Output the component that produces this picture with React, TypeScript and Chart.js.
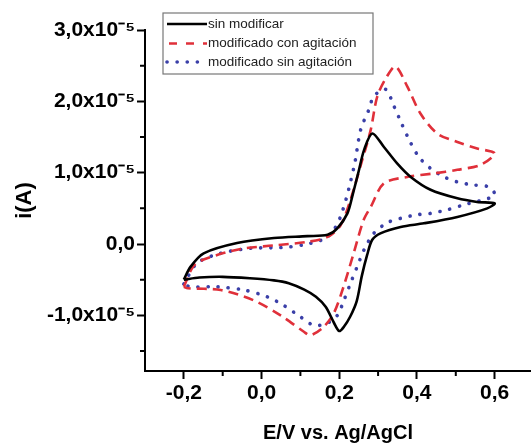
import { useEffect, useRef } from 'react';
import { Chart, registerables } from 'chart.js';

Chart.register(...registerables);

// Potential (V vs Ag/AgCl) and current (units of 1e-5 A)
const sinModX = [-0.2, -0.183, -0.149, -0.063, 0.032, 0.118, 0.17, 0.195, 0.221, 0.235, 0.25, 0.264, 0.285, 0.315, 0.349, 0.384, 0.435, 0.504, 0.555, 0.6, 0.581, 0.504, 0.418, 0.358, 0.306, 0.285, 0.272, 0.258, 0.245, 0.228, 0.212, 0.2, 0.186, 0.165, 0.14, 0.11, 0.07, 0.032, -0.03, -0.1, -0.16, -0.2];
const sinModY = [-0.5, -0.32, -0.13, 0.014, 0.084, 0.11, 0.13, 0.22, 0.43, 0.7, 1.02, 1.32, 1.55, 1.36, 1.13, 0.94, 0.76, 0.64, 0.59, 0.57, 0.5, 0.38, 0.29, 0.24, 0.15, 0.06, -0.15, -0.45, -0.8, -1.02, -1.16, -1.22, -1.1, -0.88, -0.74, -0.64, -0.55, -0.51, -0.48, -0.46, -0.47, -0.5];

const conAgitX = [-0.2, -0.174, -0.14, -0.054, 0.032, 0.118, 0.17, 0.203, 0.229, 0.255, 0.281, 0.298, 0.323, 0.345, 0.375, 0.409, 0.452, 0.504, 0.555, 0.6, 0.564, 0.504, 0.444, 0.375, 0.315, 0.281, 0.263, 0.237, 0.211, 0.186, 0.16, 0.126, 0.109, 0.049, -0.02, -0.105, -0.19, -0.2];
const conAgitY = [-0.6, -0.3, -0.2, -0.07, -0.02, 0.03, 0.1, 0.26, 0.62, 1.1, 1.6, 2.07, 2.35, 2.49, 2.21, 1.83, 1.55, 1.43, 1.34, 1.27, 1.11, 1.04, 0.99, 0.94, 0.85, 0.52, 0.34, -0.13, -0.6, -0.97, -1.16, -1.28, -1.23, -1.0, -0.79, -0.645, -0.62, -0.6];

const sinAgitX = [-0.2, -0.166, -0.105, -0.028, 0.049, 0.109, 0.17, 0.203, 0.238, 0.255, 0.276, 0.289, 0.319, 0.341, 0.358, 0.38, 0.405, 0.435, 0.47, 0.504, 0.542, 0.585, 0.6, 0.521, 0.478, 0.435, 0.4, 0.358, 0.324, 0.289, 0.264, 0.246, 0.229, 0.212, 0.195, 0.169, 0.135, 0.1, 0.057, 0.015, -0.045, -0.114, -0.183, -0.2];
const sinAgitY = [-0.56, -0.27, -0.13, -0.06, -0.05, -0.01, 0.1, 0.38, 1.08, 1.6, 1.88, 2.07, 2.17, 1.93, 1.72, 1.46, 1.22, 1.06, 0.94, 0.87, 0.83, 0.8, 0.68, 0.55, 0.48, 0.43, 0.41, 0.36, 0.3, 0.15, -0.08, -0.32, -0.55, -0.79, -1.0, -1.11, -1.14, -1.02, -0.86, -0.74, -0.645, -0.6, -0.6, -0.56];

const seriesLabels = ['sin modificar', 'modificado con agitación', 'modificado sin agitación'];

const xMajorTicks = [-0.2, 0, 0.2, 0.4, 0.6];
const xMinorTicks = [-0.1, 0.1, 0.3, 0.5];
const yMajorTicks = [-1, 0, 1, 2, 3];
const yMinorTicks = [-1.5, -0.5, 0.5, 1.5, 2.5];

const FONT = '"Liberation Sans", Arial, sans-serif';

const toPoints = (xs: number[], ys: number[]) => xs.map((x, i) => ({ x, y: ys[i] }));

const fmtX = (v: number) => v.toFixed(1).replace('.', ',');
const fmtY = (v: number) => (v === 0 ? '0,0' : v.toFixed(1).replace('.', ',') + 'x10\u207B\u2075');

const extrasPlugin = {
  id: 'extras',
  afterDraw(chart: any) {
    const { ctx } = chart;
    const xs = chart.scales.x;
    const ys = chart.scales.y;
    ctx.save();
    ctx.strokeStyle = '#000';
    ctx.lineWidth = 2;
    ctx.beginPath();
    xMinorTicks.forEach((v) => {
      const px = xs.getPixelForValue(v);
      ctx.moveTo(px, xs.top);
      ctx.lineTo(px, xs.top + 5);
    });
    yMinorTicks.forEach((v) => {
      const py = ys.getPixelForValue(v);
      ctx.moveTo(ys.right, py);
      ctx.lineTo(ys.right - 5, py);
    });
    ctx.stroke();

    // legend
    const bx = 163, by = 13, bw = 210, bh = 61;
    ctx.fillStyle = '#fff';
    ctx.fillRect(bx, by, bw, bh);
    ctx.strokeStyle = '#777';
    ctx.lineWidth = 1.2;
    ctx.strokeRect(bx, by, bw, bh);
    const rows = [24, 43.5, 62];
    chart.data.datasets.forEach((ds: any, i: number) => {
      const y = rows[i];
      ctx.save();
      ctx.strokeStyle = ds.borderColor;
      ctx.lineWidth = ds.borderWidth;
      ctx.lineCap = ds.borderCapStyle || 'butt';
      ctx.setLineDash(i === 1 ? [8, 9] : ds.borderDash || []);
      ctx.beginPath();
      ctx.moveTo(i === 1 ? 169 : 167, y);
      ctx.lineTo(207, y);
      ctx.stroke();
      ctx.restore();
      ctx.fillStyle = '#222';
      ctx.font = `13.5px ${FONT}`;
      ctx.textBaseline = 'middle';
      ctx.textAlign = 'left';
      ctx.fillText(ds.label, 208, y);
    });
    ctx.restore();
  },
};

export default function App() {
  const ref = useRef<HTMLCanvasElement | null>(null);
  useEffect(() => {
    if (!ref.current) return;
    const chart = new Chart(ref.current, {
      type: 'scatter',
      data: {
        datasets: [
          {
            label: seriesLabels[0],
            data: toPoints(sinModX, sinModY),
            showLine: true,
            borderColor: '#000',
            borderWidth: 2.6,
            pointRadius: 0,
            tension: 0.3,
          },
          {
            label: seriesLabels[1],
            data: toPoints(conAgitX, conAgitY),
            showLine: true,
            borderColor: '#e0303a',
            borderWidth: 2.6,
            borderDash: [10, 6],
            pointRadius: 0,
            tension: 0.3,
          },
          {
            label: seriesLabels[2],
            data: toPoints(sinAgitX, sinAgitY),
            showLine: true,
            borderColor: '#3a3fa8',
            borderWidth: 3.6,
            borderDash: [0.1, 10],
            borderCapStyle: 'round',
            pointRadius: 0,
            tension: 0.3,
          },
        ],
      },
      options: {
        animation: false,
        responsive: false,
        maintainAspectRatio: false,
        layout: { padding: { top: 30, left: 0, right: 0, bottom: 0 } },
        plugins: { legend: { display: false }, tooltip: { enabled: false } },
        scales: {
          x: {
            type: 'linear',
            min: -0.3,
            max: 0.6936,
            afterBuildTicks: (s: any) => {
              s.ticks = xMajorTicks.map((v) => ({ value: v }));
            },
            afterFit: (s: any) => {
              s.height = 75;
            },
            grid: { drawOnChartArea: false, tickLength: 8, tickColor: '#000', tickWidth: 2 },
            border: { color: '#000', width: 2 },
            ticks: {
              color: '#000',
              padding: 2,
              maxRotation: 0,
              autoSkip: false,
              font: { family: FONT, size: 21, weight: 'bold' },
              callback: (v: any) => fmtX(Number(v)),
            },
            title: {
              display: true,
              text: 'E/V vs. Ag/AgCl',
              color: '#000',
              font: { family: FONT, size: 20, weight: 'bold' },
              padding: { top: 0, bottom: 1 },
            },
          },
          y: {
            type: 'linear',
            min: -1.78,
            max: 3,
            afterBuildTicks: (s: any) => {
              s.ticks = yMajorTicks.map((v) => ({ value: v }));
            },
            afterFit: (s: any) => {
              s.width = 145;
            },
            grid: { drawOnChartArea: false, tickLength: 8, tickColor: '#000', tickWidth: 2 },
            border: { color: '#000', width: 2 },
            ticks: {
              color: '#000',
              padding: 2,
              autoSkip: false,
              font: { family: FONT, size: 21, weight: 'bold' },
              callback: (v: any) => fmtY(Number(v)),
            },
            title: {
              display: true,
              text: 'i(A)',
              color: '#000',
              font: { family: FONT, size: 22, weight: 'bold' },
              padding: { top: 12, bottom: 0 },
            },
          },
        },
      },
      plugins: [extrasPlugin],
    });
    return () => chart.destroy();
  }, []);
  return (
    <div style={{ position: 'fixed', left: 0, top: 0, width: 531, height: 446, background: '#fff' }}>
      <canvas ref={ref} width={531} height={446} style={{ display: 'block' }} />
    </div>
  );
}
